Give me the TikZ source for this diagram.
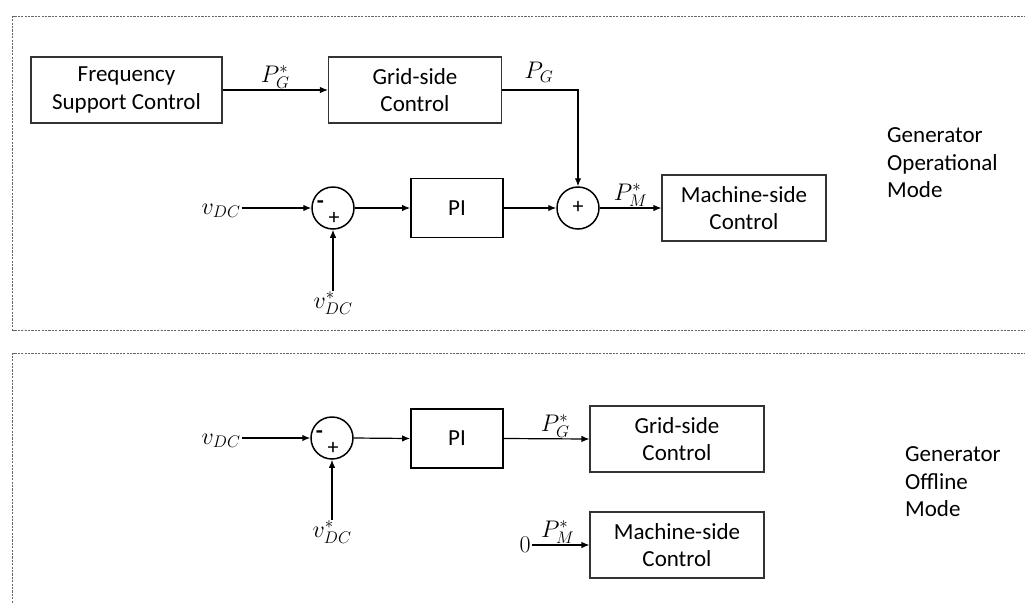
\documentclass[tikz,border=0pt]{standalone}
\usepackage{fix-cm}
\usepackage{fontspec}
\setmainfont{Carlito}
\usetikzlibrary{arrows.meta}
\begin{document}
\begin{tikzpicture}[x=1pt,y=-1pt,
  font=\fontsize{23}{27.5}\selectfont,
  blk/.style={draw=black!80,line width=1.1pt,rectangle,align=center,inner sep=0pt},
  piblk/.style={draw=black,line width=1.8pt,rectangle,inner sep=0pt,minimum width=92pt,minimum height=59pt},
  sumc/.style={draw=black,line width=1.5pt,circle,minimum size=42pt,inner sep=0pt},
  conn/.style={line width=1.2pt,-{Latex[length=8pt,width=6.5pt]}},
  lbl/.style={inner sep=1pt,font=\fontsize{24}{24}\selectfont},
  sign/.style={font=\fontsize{22}{22}\selectfont,inner sep=0pt},
  minus/.style={font=\fontsize{23}{23}\selectfont\bfseries,inner sep=0pt},
  modebox/.style={draw=black!60,line width=0.8pt,dash pattern=on 2.2pt off 1.2pt},
  modetxt/.style={align=left,anchor=west,inner sep=0pt}]
\useasboundingbox (0,0) rectangle (1025,603);
% mode frames
\draw[modebox] (1040,16.5) -- (12.5,16.5) -- (12.5,330) -- (1040,330);
\draw[modebox] (1040,353) -- (12.5,353) -- (12.5,620);
% ---------- top ----------
\node[blk,minimum width=191pt,minimum height=66pt] (fsc) at (126.5,90) {Frequency\\Support Control};
\node[blk,minimum width=173pt,minimum height=66pt] (gsc) at (415,90) {Grid-side\\Control};
\node[sumc] (sub) at (333,208) {};
\node[piblk] (pi) at (457,208) {PI};
\node[sumc] (sum) at (578,208) {};
\node[blk,minimum width=164pt,minimum height=66pt] (msc) at (744,208) {Machine-side\\Control};
\node[lbl] (vdc) at (221,211) {$v_{DC}$};
\node[lbl] (vdcs) at (333,303) {$v_{DC}^{*}$};
\node[minus] at (320.5,205) {-};
\node[sign] at (334,218) {+};
\node[sign] at (578,207) {+};
\node[lbl] (pglbl) at (539,72) {$P_G$};
\draw[conn] (fsc.east) -- node[lbl,above=0pt] {$P_G^{*}$} (gsc.west);
\draw[conn] (gsc.east) -- (sum.north |- gsc.east) -- (sum.north);
\draw[conn] (vdc.east |- sub.west) -- (sub.west);
\draw[conn] (vdcs.north) -- (sub.south);
\draw[conn] (sub.east) -- (pi.west);
\draw[conn] (pi.east) -- (sum.west);
\draw[conn] (sum.east) -- node[lbl,above=0pt] {$P_M^{*}$} (msc.west);
\node[modetxt] (opmode) at (887,163) {Generator\\Operational\\Mode};
% ---------- bottom ----------
\node[sumc] (sub2) at (332,438) {};
\node[piblk] (pi2) at (457,438.5) {PI};
\node[blk,minimum width=174pt,minimum height=66pt] (gsc2) at (677,439) {Grid-side\\Control};
\node[blk,minimum width=174pt,minimum height=66pt] (msc2) at (677,545) {Machine-side\\Control};
\node[lbl] (vdc2) at (221,441) {$v_{DC}$};
\node[lbl] (vdcs2) at (332,532) {$v_{DC}^{*}$};
\node[lbl] (zero) at (525,545) {$0$};
\node[minus] at (319.5,435) {-};
\node[sign] at (333,448) {+};
\draw[conn] (vdc2.east |- sub2.west) -- (sub2.west);
\draw[conn] (vdcs2.north) -- (sub2.south);
\draw[conn] (sub2.east) -- (pi2.west);
\draw[conn] (pi2.east) -- node[lbl,above=0pt,pos=0.6] {$P_G^{*}$} (gsc2.west);
\draw[conn] (zero.east |- msc2.west) -- node[lbl,above=0pt,pos=0.45] {$P_M^{*}$} (msc2.west);
\node[modetxt] (offmode) at (905,482) {Generator\\Offline\\Mode};
\end{tikzpicture}
\end{document}
